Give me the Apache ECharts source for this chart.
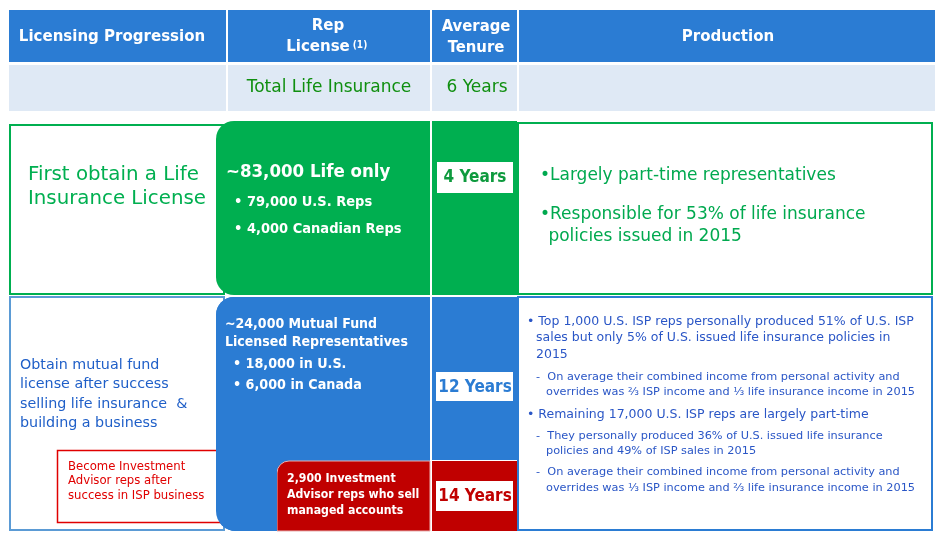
<!DOCTYPE html>
<html><head><meta charset="utf-8">
<script src="https://cdn.jsdelivr.net/npm/echarts@6/dist/echarts.min.js"></script>
<style>html,body{margin:0;padding:0;background:#fff}#c{width:937px;height:541px}</style>
</head><body><div id="c"></div>
<script>
// ---- data ----
var headers = ["Licensing Progression", "Rep\nLicense", "Average\nTenure", "Production"];
var totalRow = ["Total Life Insurance", "6 Years"];
var stageLabels = ["First obtain a Life\nInsurance License", "Obtain mutual fund\nlicense after success\nselling life insurance  &\nbuilding a business", "Become Investment\nAdvisor reps after\nsuccess in ISP business"];
var repTitles = ["~83,000 Life only", "~24,000 Mutual Fund\nLicensed Representatives", "2,900 Investment\nAdvisor reps who sell\nmanaged accounts"];
var repLife = ["• 79,000 U.S. Reps", "• 4,000 Canadian Reps"];
var repFund = ["• 18,000 in U.S.", "• 6,000 in Canada"];
var tenures = ["4 Years", "12 Years", "14 Years"];
var prodLife = [["•Largely part-time representatives"], ["•Responsible for 53% of life insurance", " policies issued in 2015"]];
var prodFund = [
  ["b", "• Top 1,000 U.S. ISP reps personally produced 51% of U.S. ISP"],
  ["c", "sales but only 5% of U.S. issued life insurance policies in"],
  ["c", "2015"],
  ["d", "-  On average their combined income from personal activity and"],
  ["e", "overrides was \u2154 ISP income and \u2153 life insurance income in 2015"],
  ["b", "• Remaining 17,000 U.S. ISP reps are largely part-time"],
  ["d", "-  They personally produced 36% of U.S. issued life insurance"],
  ["e", "policies and 49% of ISP sales in 2015"],
  ["d", "-  On average their combined income from personal activity and"],
  ["e", "overrides was \u2153 ISP income and \u2154 life insurance income in 2015"]
];
var prodFundY = [322, 338, 355, 377, 392, 415, 436, 451, 472, 488];

// ---- style ----
var FR = '"DejaVu Sans", sans-serif';
var FB = '"DejaVu Sans Condensed", "DejaVu Sans", sans-serif';
var BLUE = '#2B7CD3', GREEN = '#00AF50', RED = '#C00000', LIGHT = '#DFE9F5';
var g = [];
function rect(x, y, w, h, fill, stroke, r, lw) {
  g.push({type: 'rect', shape: {x: x, y: y, width: w, height: h, r: r || 0},
    style: {fill: fill || 'none', stroke: stroke || null, lineWidth: lw || 0}});
}
function text(x, y, s, size, color, weight, align, lh) {
  var bold = weight === 'bold';
  g.push({type: 'text', x: x, y: y, style: {text: s, font: (bold ? 'bold ' : 'normal ') + size + 'px ' + (bold ? FB : FR),
    fill: color, align: align || 'left', verticalAlign: 'middle', lineHeight: lh || size * 1.2}});
}
// header
rect(9, 10, 217, 52, BLUE); rect(228, 10, 202, 52, BLUE); rect(432, 10, 85, 52, BLUE); rect(519, 10, 416, 52, BLUE);
rect(9, 65, 217, 46, LIGHT); rect(228, 65, 202, 46, LIGHT); rect(432, 65, 85, 46, LIGHT); rect(519, 65, 416, 46, LIGHT);
text(112, 37, headers[0], 16.7, '#fff', 'bold', 'center');
text(328, 26, headers[1].split('\n')[0], 16.7, '#fff', 'bold', 'center');
text(318, 47, headers[1].split('\n')[1], 16.7, '#fff', 'bold', 'center');
text(360, 45, '(1)', 10, '#fff', 'bold', 'center');
text(476, 37, headers[2], 16.5, '#fff', 'bold', 'center', 21);
text(728, 37, headers[3], 16.7, '#fff', 'bold', 'center');
text(329, 88, totalRow[0], 17, '#108F10', 'normal', 'center');
text(477, 88, totalRow[1], 17, '#108F10', 'normal', 'center');

// section 1 outline
rect(10, 125, 214, 169, '#fff', GREEN, 0, 2);
rect(518, 123, 414, 171, '#fff', GREEN, 0, 2);
// section 2 outline
rect(10, 297, 214, 233, '#fff', '#5B9BD5', 0, 2);
rect(518, 297, 414, 233, '#fff', BLUE, 0, 2);

// green rep shape
rect(216, 121, 214, 174, GREEN, null, [18, 0, 0, 18]);
rect(432, 121, 85, 174, GREEN);
// blue rep shape
rect(216, 297, 214, 234, BLUE, null, [18, 0, 0, 20]);
rect(432, 297, 85, 163, BLUE);
// red shapes
rect(277, 461, 153, 70, RED, '#E8B0B0', [12, 0, 0, 0], 1);
rect(432, 461, 85, 70, RED);
// red outlined box
rect(57.5, 450.5, 163, 72, '#fff', '#E00000', 0, 1.5);
// re-draw blue shape left edge over red box
rect(216, 297, 61, 234, BLUE, null, [18, 0, 0, 20]);

// white tenure boxes
rect(437, 162, 76, 31, '#fff');
rect(436, 372, 77, 29, '#fff');
rect(436, 481, 77, 30, '#fff');
text(475, 178, tenures[0], 17, '#0E9A3E', 'bold', 'center');
text(475, 388, tenures[1], 17, BLUE, 'bold', 'center');
text(475, 497, tenures[2], 17, RED, 'bold', 'center');

// left labels
text(28, 187, stageLabels[0], 19.8, GREEN, 'normal', 'left', 24);
text(20, 394.5, stageLabels[1], 14.3, '#1F5FC8', 'normal', 'left', 19.5);
text(68, 481, stageLabels[2], 11.7, '#E00000', 'normal', 'left', 14.5);

// rep texts
text(226, 172, repTitles[0], 18.5, '#fff', 'bold', 'left');
text(234, 202, repLife[0], 14.5, '#fff', 'bold', 'left');
text(234, 229, repLife[1], 14.5, '#fff', 'bold', 'left');
text(225, 333, repTitles[1], 14, '#fff', 'bold', 'left', 18);
text(233, 364, repFund[0], 14.2, '#fff', 'bold', 'left');
text(233, 385, repFund[1], 14.2, '#fff', 'bold', 'left');
text(287, 495, repTitles[2], 12.2, '#fff', 'bold', 'left', 16);

// production texts
text(540, 176, prodLife[0][0], 17, '#00A94F', 'normal', 'left');
text(540, 215, prodLife[1][0], 17, '#00A94F', 'normal', 'left');
text(543, 237, prodLife[1][1], 17, '#00A94F', 'normal', 'left');
var xs = {b: 527, c: 536, d: 536, e: 546};
prodFund.forEach(function (p, i) {
  var big = (p[0] === 'b' || p[0] === 'c');
  text(xs[p[0]], prodFundY[i], p[1], big ? 12.5 : 11.3, '#2A56C6', 'normal', 'left');
});

var chart = echarts.init(document.getElementById('c'));
chart.setOption({animation: false, graphic: {elements: g}});
</script></body></html>
